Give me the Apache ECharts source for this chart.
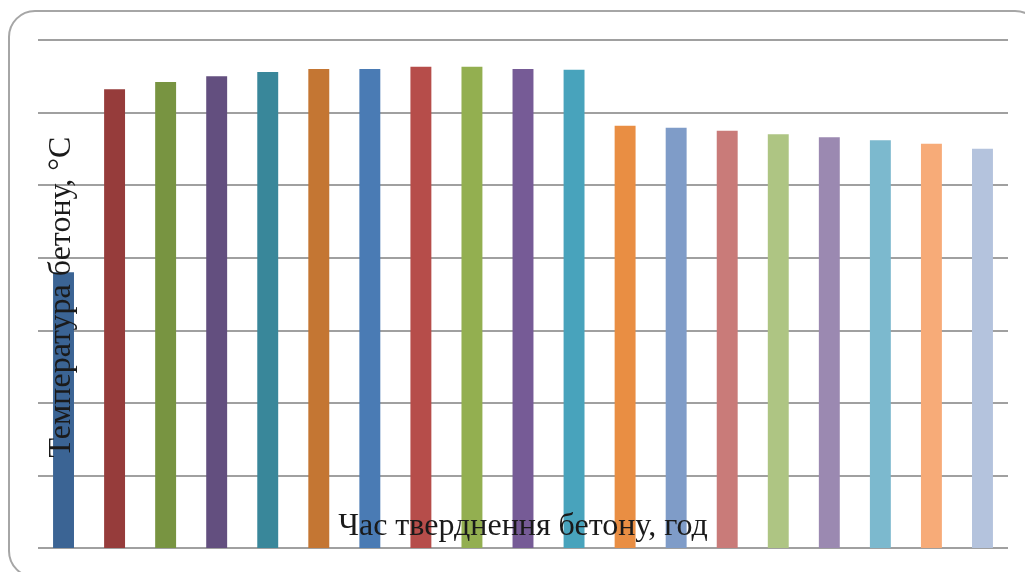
<!DOCTYPE html>
<html>
<head>
<meta charset="utf-8">
<script src="https://cdn.jsdelivr.net/npm/echarts@6/dist/echarts.min.js"></script>
<style>
  html, body { margin: 0; padding: 0; background: #ffffff; }
  #chart { width: 1025px; height: 572px; }
</style>
</head>
<body>
<div id="chart"></div>
<script>
// Hours of concrete hardening (category axis, labels hidden)
const hours = ['1','2','3','4','5','6','7','8','9','10','11','12','13','14','15','16','17','18','19'];
// Concrete temperature, °C
const temperature = [38.0, 63.2, 64.2, 65.0, 65.6, 66.0, 66.0, 66.3, 66.3, 66.0, 65.9,
                     58.2, 57.9, 57.5, 57.0, 56.6, 56.2, 55.7, 55.0];
// One colour per bar
const barColors = ['#3b6494', '#963c3b', '#789441', '#634f7f', '#39879a', '#c47633',
                   '#4a7bb4', '#b64d4a', '#93af50', '#765b96', '#48a3bc', '#e98e43',
                   '#7f9cc8', '#c97b79', '#aec583', '#9b89b1', '#7cb9ce', '#f7ab78', '#b4c3dd'];
const yTitle = 'Температура бетону, °C';
const xTitle = 'Час тверднення бетону, год';

const chart = echarts.init(document.getElementById('chart'), null, { renderer: 'canvas' });
chart.setOption({
  animation: false,
  backgroundColor: '#ffffff',
  grid: { left: 38, right: 17, top: 40, bottom: 24 },
  xAxis: {
    type: 'category',
    data: hours,
    axisLine: { show: false },
    axisTick: { show: false },
    axisLabel: { show: false }
  },
  yAxis: {
    type: 'value',
    min: 0,
    max: 70,
    interval: 10,
    axisLine: { show: false },
    axisTick: { show: false },
    axisLabel: { show: false },
    splitLine: { lineStyle: { color: '#a0a0a0', width: 2 } }
  },
  series: [{
    type: 'bar',
    barWidth: '41%',
    data: temperature.map((v, i) => ({ value: v, itemStyle: { color: barColors[i] } }))
  }],
  graphic: [
    {
      type: 'rect',
      z: 0,
      silent: true,
      shape: { x: 9, y: 11, width: 1032, height: 566, r: 26 },
      style: { fill: 'none', stroke: '#a6a6a6', lineWidth: 2 }
    },
    {
      type: 'text',
      z: 100,
      x: 62,
      y: 297,
      rotation: Math.PI / 2,
      style: {
        text: yTitle,
        font: '32px "Liberation Serif", "DejaVu Serif", serif',
        fill: '#1a1a1a',
        align: 'center',
        verticalAlign: 'middle'
      }
    },
    {
      type: 'text',
      z: 100,
      x: 523,
      y: 527,
      style: {
        text: xTitle,
        font: '32px "Liberation Serif", "DejaVu Serif", serif',
        fill: '#1a1a1a',
        align: 'center',
        verticalAlign: 'middle'
      }
    }
  ]
});
</script>
</body>
</html>
